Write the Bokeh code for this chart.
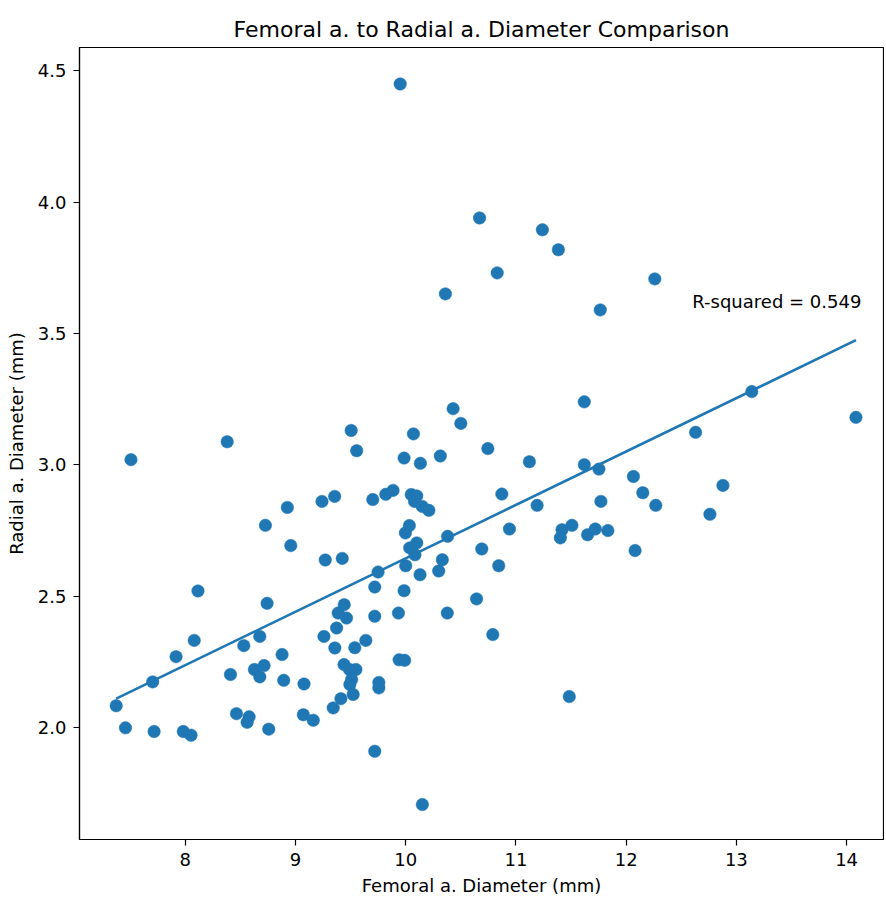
import numpy as np
from bokeh.plotting import figure
from bokeh.models import Range1d, FixedTicker, PrintfTickFormatter, Label
from bokeh.embed import file_html
from bokeh.resources import INLINE

title_text = "Femoral a. to Radial a. Diameter Comparison"
x_label = "Femoral a. Diameter (mm)"
y_label = "Radial a. Diameter (mm)"
r2_text = "R-squared = 0.549"

femoral = [
    9.95, 10.67, 11.24, 11.385, 10.83, 12.26, 10.36, 11.765, 11.62, 13.14,
    14.085, 12.63, 10.43, 10.50, 9.505, 9.555, 10.07, 9.985, 10.133, 10.314,
    10.745, 7.507, 8.38, 11.122, 11.62, 11.753, 12.066, 12.878, 12.151, 10.872,
    8.926, 9.24, 9.355, 9.701, 9.819, 9.885, 10.05, 10.10, 10.08, 10.15,
    10.21, 11.192, 11.771, 12.269, 12.76, 8.727, 10.033, 9.997, 10.38, 10.941,
    11.418, 11.508, 11.403, 11.65, 11.72, 11.834, 8.957, 10.036, 10.10, 10.084,
    10.69, 12.081, 9.27, 9.424, 10.332, 10.0, 10.844, 10.299, 10.13, 9.749,
    9.719, 9.985, 8.115, 10.643, 8.742, 9.442, 9.387, 9.463, 9.719, 9.934,
    10.377, 9.373, 10.79, 9.258, 8.676, 8.081, 9.638, 8.531, 9.357, 9.538,
    8.878, 7.916, 9.94, 9.99, 9.44, 9.49, 9.548, 8.715, 8.627, 8.41,
    8.676, 8.893, 7.704, 9.077, 9.756, 9.756, 9.509, 9.493, 9.523, 9.412,
    9.342, 11.484, 7.373, 8.464, 9.071, 8.579, 9.161, 8.561, 7.457, 8.757,
    7.717, 7.982, 8.052, 9.719, 10.151,
]
radial = [
    4.45, 3.94, 3.895, 3.819, 3.731, 3.708, 3.651, 3.59, 3.24, 3.279,
    3.181, 3.124, 3.214, 3.158, 3.131, 3.054, 3.118, 3.026, 3.006, 3.034,
    3.062, 3.020, 3.088, 3.012, 3.001, 2.984, 2.956, 2.922, 2.894, 2.889,
    2.838, 2.861, 2.880, 2.868, 2.888, 2.903, 2.887, 2.882, 2.861, 2.842,
    2.827, 2.846, 2.861, 2.846, 2.812, 2.770, 2.769, 2.741, 2.728, 2.756,
    2.753, 2.770, 2.722, 2.734, 2.756, 2.750, 2.693, 2.684, 2.703, 2.658,
    2.680, 2.674, 2.638, 2.644, 2.639, 2.616, 2.616, 2.596, 2.582, 2.592,
    2.535, 2.521, 2.520, 2.490, 2.473, 2.468, 2.436, 2.417, 2.424, 2.436,
    2.436, 2.379, 2.354, 2.347, 2.347, 2.332, 2.332, 2.312, 2.303, 2.304,
    2.278, 2.270, 2.258, 2.256, 2.240, 2.221, 2.221, 2.236, 2.221, 2.202,
    2.193, 2.180, 2.174, 2.166, 2.172, 2.151, 2.183, 2.164, 2.126, 2.110,
    2.075, 2.118, 2.083, 2.053, 2.049, 2.041, 2.028, 2.020, 1.999, 1.994,
    1.985, 1.985, 1.971, 1.910, 1.707,
]
x_ticks = [8, 9, 10, 11, 12, 13, 14]
y_ticks = [2.0, 2.5, 3.0, 3.5, 4.0, 4.5]

FONT = "DejaVu Sans"
BLUE = "#1f77b4"

p = figure(width=884, height=898, output_backend="svg", toolbar_location=None,
           x_range=Range1d(7.04, 14.335), y_range=Range1d(1.574, 4.589),
           min_border_left=79, min_border_right=1, min_border_top=47,
           min_border_bottom=58)
p.title.text = title_text
p.title.align = "center"
p.title.text_font = FONT
p.title.text_font_size = "22px"
p.title.text_font_style = "normal"
p.title.text_color = "black"
p.title.standoff = 12

p.grid.visible = False
p.outline_line_color = "black"
p.outline_line_width = 1.2
p.background_fill_color = "white"
p.border_fill_color = "white"

for ax in (p.xaxis[0], p.yaxis[0]):
    ax.axis_line_color = "black"
    ax.axis_line_width = 1.2
    ax.major_tick_line_color = "black"
    ax.major_tick_line_width = 1.2
    ax.major_tick_out = 6
    ax.major_tick_in = 0
    ax.minor_tick_line_color = None
    ax.major_label_text_font = FONT
    ax.major_label_text_font_size = "18px"
    ax.major_label_text_color = "black"
    ax.major_label_standoff = 7
    ax.axis_label_text_font = FONT
    ax.axis_label_text_font_size = "18px"
    ax.axis_label_text_font_style = "normal"
    ax.axis_label_text_color = "black"

p.xaxis[0].axis_label_standoff = 6
p.yaxis[0].axis_label_standoff = 8

p.xaxis.axis_label = x_label
p.yaxis.axis_label = y_label
p.xaxis.ticker = FixedTicker(ticks=x_ticks)
p.yaxis.ticker = FixedTicker(ticks=y_ticks)
p.xaxis.formatter = PrintfTickFormatter(format="%d")
p.yaxis.formatter = PrintfTickFormatter(format="%.1f")

p.scatter(femoral, radial, size=12.5, fill_color=BLUE, line_color=BLUE, line_width=0.5)

xa = np.array(femoral)
ya = np.array(radial)
slope, intercept = np.polyfit(xa, ya, 1)
lx = np.array([xa.min(), xa.max()])
p.line(lx, slope * lx + intercept, line_color=BLUE, line_width=2.6)

p.add_layout(Label(x=12.6, y=3.622, text=r2_text, text_font=FONT, text_font_size="18px",
                   text_color="black", text_baseline="alphabetic", text_align="left"))

open("out.html", "w").write(file_html(p, INLINE))
